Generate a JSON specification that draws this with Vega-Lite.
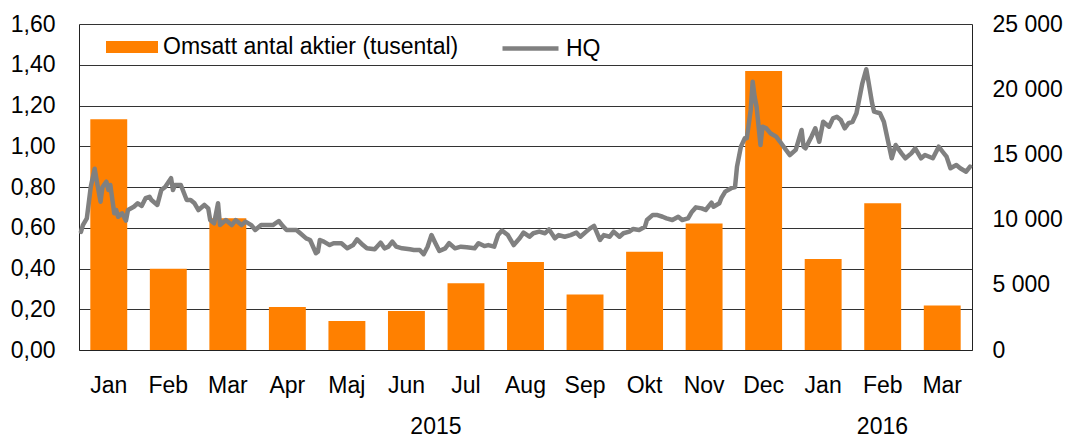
{
  "$schema": "https://vega.github.io/schema/vega-lite/v6.json",
  "width": 893,
  "height": 326,
  "autosize": {"type": "none"},
  "padding": {"left": 79, "top": 24, "right": 96, "bottom": 89},
  "background": "white",
  "config": {
    "font": "Liberation Sans",
    "view": {"stroke": null},
    "axis": {"labelFont": "Liberation Sans", "labelFontSize": 23, "labelColor": "#000", "ticks": false, "title": null, "domainColor": "#222", "domainWidth": 1},
    "legend": {"labelFont": "Liberation Sans", "labelFontSize": 23, "labelColor": "#000", "padding": 0, "title": null, "labelLimit": 500}
  },
  "datasets": {
    "bars": [
      {"period": "2015-01", "volume": 17700},
      {"period": "2015-02", "volume": 6230},
      {"period": "2015-03", "volume": 10100},
      {"period": "2015-04", "volume": 3300},
      {"period": "2015-05", "volume": 2220},
      {"period": "2015-06", "volume": 2990},
      {"period": "2015-07", "volume": 5120},
      {"period": "2015-08", "volume": 6750},
      {"period": "2015-09", "volume": 4250},
      {"period": "2015-10", "volume": 7530},
      {"period": "2015-11", "volume": 9700},
      {"period": "2015-12", "volume": 21400},
      {"period": "2016-01", "volume": 6980},
      {"period": "2016-02", "volume": 11250},
      {"period": "2016-03", "volume": 3420}
    ],
    "hq": [
      {"date": "2015-01-02", "price": 0.58},
      {"date": "2015-01-03", "price": 0.613},
      {"date": "2015-01-05", "price": 0.646},
      {"date": "2015-01-07", "price": 0.80},
      {"date": "2015-01-09", "price": 0.89},
      {"date": "2015-01-10", "price": 0.834},
      {"date": "2015-01-12", "price": 0.728},
      {"date": "2015-01-13", "price": 0.80},
      {"date": "2015-01-15", "price": 0.826},
      {"date": "2015-01-16", "price": 0.785},
      {"date": "2015-01-17", "price": 0.81},
      {"date": "2015-01-19", "price": 0.671},
      {"date": "2015-01-20", "price": 0.687},
      {"date": "2015-01-21", "price": 0.654},
      {"date": "2015-01-23", "price": 0.671},
      {"date": "2015-01-25", "price": 0.635},
      {"date": "2015-01-26", "price": 0.687},
      {"date": "2015-01-29", "price": 0.703},
      {"date": "2015-01-31", "price": 0.72},
      {"date": "2015-02-02", "price": 0.707},
      {"date": "2015-02-04", "price": 0.745},
      {"date": "2015-02-06", "price": 0.752},
      {"date": "2015-02-07", "price": 0.736},
      {"date": "2015-02-10", "price": 0.712},
      {"date": "2015-02-12", "price": 0.785},
      {"date": "2015-02-14", "price": 0.80},
      {"date": "2015-02-17", "price": 0.843},
      {"date": "2015-02-18", "price": 0.785},
      {"date": "2015-02-19", "price": 0.81},
      {"date": "2015-02-22", "price": 0.81},
      {"date": "2015-02-25", "price": 0.736},
      {"date": "2015-02-27", "price": 0.736},
      {"date": "2015-03-01", "price": 0.72},
      {"date": "2015-03-03", "price": 0.687},
      {"date": "2015-03-06", "price": 0.712},
      {"date": "2015-03-08", "price": 0.695},
      {"date": "2015-03-09", "price": 0.638},
      {"date": "2015-03-11", "price": 0.622},
      {"date": "2015-03-13", "price": 0.72},
      {"date": "2015-03-14", "price": 0.613},
      {"date": "2015-03-17", "price": 0.638},
      {"date": "2015-03-20", "price": 0.613},
      {"date": "2015-03-22", "price": 0.638},
      {"date": "2015-03-25", "price": 0.613},
      {"date": "2015-03-27", "price": 0.63},
      {"date": "2015-03-30", "price": 0.613},
      {"date": "2015-04-01", "price": 0.589},
      {"date": "2015-04-04", "price": 0.613},
      {"date": "2015-04-06", "price": 0.613},
      {"date": "2015-04-10", "price": 0.613},
      {"date": "2015-04-13", "price": 0.633},
      {"date": "2015-04-15", "price": 0.609},
      {"date": "2015-04-17", "price": 0.589},
      {"date": "2015-04-22", "price": 0.589},
      {"date": "2015-04-24", "price": 0.573},
      {"date": "2015-04-27", "price": 0.548},
      {"date": "2015-04-29", "price": 0.54},
      {"date": "2015-05-02", "price": 0.475},
      {"date": "2015-05-03", "price": 0.482},
      {"date": "2015-05-04", "price": 0.54},
      {"date": "2015-05-06", "price": 0.532},
      {"date": "2015-05-09", "price": 0.515},
      {"date": "2015-05-11", "price": 0.524},
      {"date": "2015-05-15", "price": 0.524},
      {"date": "2015-05-18", "price": 0.499},
      {"date": "2015-05-21", "price": 0.515},
      {"date": "2015-05-23", "price": 0.543},
      {"date": "2015-05-26", "price": 0.515},
      {"date": "2015-05-28", "price": 0.499},
      {"date": "2015-06-01", "price": 0.494},
      {"date": "2015-06-04", "price": 0.527},
      {"date": "2015-06-06", "price": 0.499},
      {"date": "2015-06-08", "price": 0.507},
      {"date": "2015-06-10", "price": 0.532},
      {"date": "2015-06-12", "price": 0.507},
      {"date": "2015-06-15", "price": 0.499},
      {"date": "2015-06-19", "price": 0.494},
      {"date": "2015-06-21", "price": 0.491},
      {"date": "2015-06-24", "price": 0.491},
      {"date": "2015-06-26", "price": 0.47},
      {"date": "2015-06-28", "price": 0.507},
      {"date": "2015-06-30", "price": 0.564},
      {"date": "2015-07-02", "price": 0.524},
      {"date": "2015-07-04", "price": 0.486},
      {"date": "2015-07-07", "price": 0.499},
      {"date": "2015-07-09", "price": 0.524},
      {"date": "2015-07-12", "price": 0.499},
      {"date": "2015-07-15", "price": 0.507},
      {"date": "2015-07-18", "price": 0.504},
      {"date": "2015-07-22", "price": 0.499},
      {"date": "2015-07-24", "price": 0.524},
      {"date": "2015-07-27", "price": 0.51},
      {"date": "2015-07-29", "price": 0.515},
      {"date": "2015-08-01", "price": 0.507},
      {"date": "2015-08-03", "price": 0.564},
      {"date": "2015-08-05", "price": 0.586},
      {"date": "2015-08-08", "price": 0.564},
      {"date": "2015-08-11", "price": 0.515},
      {"date": "2015-08-14", "price": 0.548},
      {"date": "2015-08-16", "price": 0.576},
      {"date": "2015-08-19", "price": 0.556},
      {"date": "2015-08-21", "price": 0.573},
      {"date": "2015-08-24", "price": 0.581},
      {"date": "2015-08-27", "price": 0.573},
      {"date": "2015-08-29", "price": 0.592},
      {"date": "2015-09-01", "price": 0.548},
      {"date": "2015-09-03", "price": 0.564},
      {"date": "2015-09-06", "price": 0.556},
      {"date": "2015-09-09", "price": 0.564},
      {"date": "2015-09-12", "price": 0.576},
      {"date": "2015-09-14", "price": 0.556},
      {"date": "2015-09-17", "price": 0.581},
      {"date": "2015-09-19", "price": 0.597},
      {"date": "2015-09-21", "price": 0.609},
      {"date": "2015-09-24", "price": 0.54},
      {"date": "2015-09-26", "price": 0.564},
      {"date": "2015-09-29", "price": 0.556},
      {"date": "2015-10-01", "price": 0.581},
      {"date": "2015-10-04", "price": 0.556},
      {"date": "2015-10-06", "price": 0.573},
      {"date": "2015-10-09", "price": 0.581},
      {"date": "2015-10-11", "price": 0.594},
      {"date": "2015-10-14", "price": 0.589},
      {"date": "2015-10-17", "price": 0.605},
      {"date": "2015-10-18", "price": 0.638},
      {"date": "2015-10-21", "price": 0.663},
      {"date": "2015-10-23", "price": 0.663},
      {"date": "2015-10-26", "price": 0.654},
      {"date": "2015-10-28", "price": 0.646},
      {"date": "2015-10-31", "price": 0.638},
      {"date": "2015-11-03", "price": 0.654},
      {"date": "2015-11-05", "price": 0.638},
      {"date": "2015-11-08", "price": 0.646},
      {"date": "2015-11-10", "price": 0.679},
      {"date": "2015-11-12", "price": 0.70},
      {"date": "2015-11-15", "price": 0.695},
      {"date": "2015-11-17", "price": 0.687},
      {"date": "2015-11-20", "price": 0.723},
      {"date": "2015-11-21", "price": 0.703},
      {"date": "2015-11-24", "price": 0.72},
      {"date": "2015-11-25", "price": 0.745},
      {"date": "2015-11-27", "price": 0.777},
      {"date": "2015-11-30", "price": 0.794},
      {"date": "2015-12-02", "price": 0.80},
      {"date": "2015-12-03", "price": 0.90},
      {"date": "2015-12-05", "price": 0.998},
      {"date": "2015-12-07", "price": 1.039},
      {"date": "2015-12-08", "price": 1.039},
      {"date": "2015-12-10", "price": 1.178},
      {"date": "2015-12-11", "price": 1.317},
      {"date": "2015-12-12", "price": 1.243},
      {"date": "2015-12-13", "price": 1.194},
      {"date": "2015-12-15", "price": 1.006},
      {"date": "2015-12-16", "price": 1.096},
      {"date": "2015-12-18", "price": 1.088},
      {"date": "2015-12-20", "price": 1.064},
      {"date": "2015-12-23", "price": 1.047},
      {"date": "2015-12-25", "price": 1.022},
      {"date": "2015-12-28", "price": 0.982},
      {"date": "2015-12-30", "price": 0.957},
      {"date": "2016-01-02", "price": 0.982},
      {"date": "2016-01-05", "price": 1.08},
      {"date": "2016-01-06", "price": 0.998},
      {"date": "2016-01-07", "price": 0.99},
      {"date": "2016-01-10", "price": 1.047},
      {"date": "2016-01-12", "price": 1.088},
      {"date": "2016-01-14", "price": 1.022},
      {"date": "2016-01-16", "price": 1.12},
      {"date": "2016-01-19", "price": 1.096},
      {"date": "2016-01-21", "price": 1.137},
      {"date": "2016-01-23", "price": 1.145},
      {"date": "2016-01-25", "price": 1.129},
      {"date": "2016-01-27", "price": 1.088},
      {"date": "2016-01-29", "price": 1.113},
      {"date": "2016-01-31", "price": 1.12},
      {"date": "2016-02-02", "price": 1.162},
      {"date": "2016-02-03", "price": 1.211},
      {"date": "2016-02-05", "price": 1.309},
      {"date": "2016-02-07", "price": 1.378},
      {"date": "2016-02-08", "price": 1.325},
      {"date": "2016-02-10", "price": 1.211},
      {"date": "2016-02-11", "price": 1.17},
      {"date": "2016-02-14", "price": 1.162},
      {"date": "2016-02-16", "price": 1.12},
      {"date": "2016-02-18", "price": 1.031},
      {"date": "2016-02-20", "price": 0.941},
      {"date": "2016-02-22", "price": 1.006},
      {"date": "2016-02-25", "price": 0.965},
      {"date": "2016-02-27", "price": 0.941},
      {"date": "2016-03-01", "price": 0.965},
      {"date": "2016-03-03", "price": 0.99},
      {"date": "2016-03-06", "price": 0.941},
      {"date": "2016-03-08", "price": 0.957},
      {"date": "2016-03-12", "price": 0.941},
      {"date": "2016-03-15", "price": 0.998},
      {"date": "2016-03-17", "price": 0.973},
      {"date": "2016-03-19", "price": 0.949},
      {"date": "2016-03-21", "price": 0.892},
      {"date": "2016-03-24", "price": 0.908},
      {"date": "2016-03-26", "price": 0.892},
      {"date": "2016-03-29", "price": 0.875},
      {"date": "2016-03-31", "price": 0.90}
    ]
  },
  "layer": [
    {
      "data": {"name": "bars"},
      "mark": {"type": "bar"},
      "encoding": {
        "x": {
          "field": "period", "type": "ordinal", "sort": "ascending",
          "scale": {"paddingInner": 0.38, "paddingOuter": 0.19},
          "axis": {"orient": "bottom", "labelAngle": 0, "labelPadding": 24, "grid": false, "domain": true,
            "labelExpr": "['Jan','Feb','Mar','Apr','Maj','Jun','Jul','Aug','Sep','Okt','Nov','Dec'][toNumber(slice(datum.value,5,7))-1]"}
        },
        "y": {
          "field": "volume", "type": "quantitative",
          "scale": {"domain": [0, 25000], "nice": false},
          "axis": {"orient": "right", "values": [0, 5000, 10000, 15000, 20000, 25000], "grid": false, "labelPadding": 20,
            "labelExpr": "replace(format(datum.value, ','), ',', ' ')"}
        },
        "fill": {
          "datum": "Omsatt antal aktier (tusental)",
          "scale": {"range": ["#FF8000"]},
          "legend": {"orient": "none", "legendX": 27, "legendY": -3, "symbolType": "M-1,-0.23H1V0.23H-1Z", "symbolSize": 2704, "symbolStrokeWidth": 0, "labelOffset": 5}
        }
      }
    },
    {
      "data": {"name": "hq"},
      "mark": {"type": "line", "color": "#808080", "strokeWidth": 4.5, "strokeJoin": "round", "strokeCap": "round"},
      "encoding": {
        "x": {
          "field": "date", "type": "temporal",
          "scale": {"type": "utc", "domain": [{"year": 2015, "month": 1, "date": 1, "utc": true}, {"year": 2016, "month": 4, "date": 1, "utc": true}]},
          "axis": {"orient": "bottom", "domain": false, "grid": false, "labelPadding": 65,
            "values": [{"year": 2015, "month": 7, "date": 2, "utc": true}, {"year": 2016, "month": 2, "date": 15, "utc": true}],
            "labelExpr": "utcFormat(datum.value, '%Y')"}
        },
        "y": {
          "field": "price", "type": "quantitative",
          "scale": {"domain": [0, 1.6], "nice": false},
          "axis": {"orient": "left", "values": [0, 0.2, 0.4, 0.6, 0.8, 1.0, 1.2, 1.4, 1.6], "grid": true, "gridColor": "#333", "gridWidth": 1, "labelPadding": 24,
            "labelExpr": "replace(format(datum.value, '.2f'), '.', ',')"}
        },
        "stroke": {
          "datum": "HQ",
          "scale": {"range": ["#808080"]},
          "legend": {"orient": "none", "legendX": 421, "legendY": -6, "symbolType": "stroke", "symbolSize": 3136, "symbolStrokeWidth": 4.5, "labelOffset": 5}
        }
      }
    }
  ],
  "resolve": {
    "scale": {"x": "independent", "y": "independent", "fill": "independent", "stroke": "independent"},
    "axis": {"x": "independent", "y": "independent"}
  }
}
